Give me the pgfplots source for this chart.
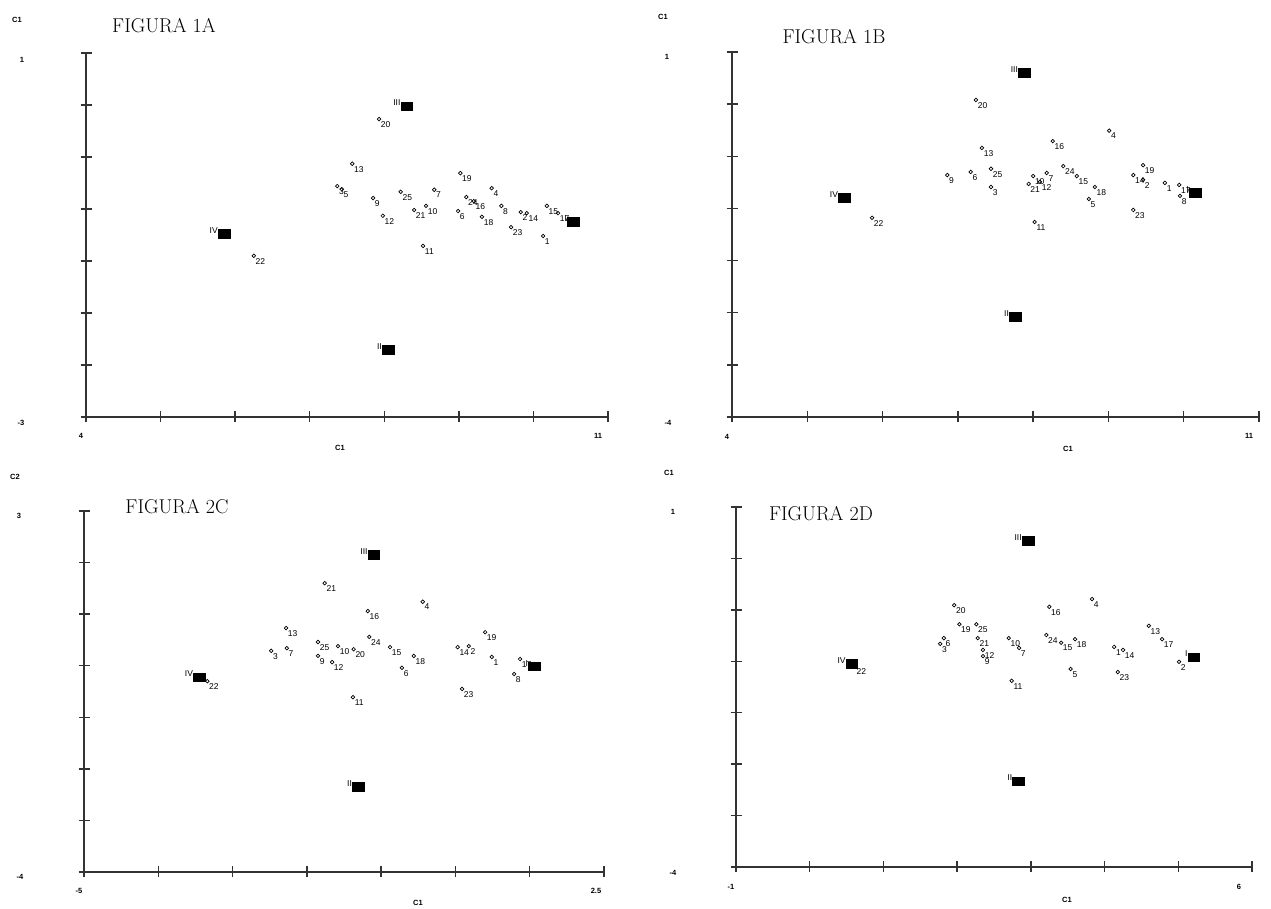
\documentclass[border=0pt]{standalone}
\usepackage{fontspec}
\setsansfont{Liberation Sans}
\usepackage{pgfplots}
\usepackage{pgfplotstable}
\pgfplotsset{compat=1.18}

\newcommand\ptfont{\sffamily\fontsize{8.5}{8.5}\selectfont}
\newcommand\axfont{\sffamily\bfseries\fontsize{7.5}{7.5}\selectfont}
\newcommand\ttlfont{\rmfamily\fontsize{20}{20}\selectfont}

% positions in tick units: each panel has 7 divisions on both axes
\pgfplotstableread{
x y lab
6.13 3.48 1
5.83 3.94 2
3.37 4.44 3
5.44 4.40 4
3.43 4.38 5
4.99 3.96 6
4.67 4.37 7
5.57 4.06 8
3.85 4.21 9
4.56 4.06 10
4.52 3.29 11
3.98 3.87 12
3.57 4.87 13
5.91 3.92 14
6.18 4.06 15
5.20 4.15 16
6.33 3.92 17
5.31 3.85 18
5.02 4.69 19
3.93 5.73 20
4.40 3.98 21
2.25 3.10 22
5.70 3.65 23
5.10 4.23 24
4.22 4.33 25
}\ptsA
\pgfplotstableread{
x y lab
6.53 3.75 I
4.05 1.29 II
4.30 5.98 III
1.85 3.52 IV
}\grpA

\pgfplotstableread{
x y lab
5.75 4.49 1
5.46 4.55 2
3.44 4.41 3
5.01 5.49 4
4.74 4.18 5
3.17 4.70 6
4.18 4.68 7
5.95 4.24 8
2.86 4.64 9
4.00 4.62 10
4.02 3.74 11
4.09 4.51 12
3.32 5.16 13
5.33 4.64 14
4.58 4.62 15
4.26 5.29 16
5.94 4.45 17
4.82 4.41 18
5.46 4.83 19
3.24 6.08 20
3.94 4.47 21
1.86 3.82 22
5.33 3.97 23
4.40 4.81 24
3.44 4.76 25
}\ptsB
\pgfplotstableread{
x y lab
6.15 4.30 I
3.76 1.92 II
3.88 6.60 III
1.49 4.20 IV
}\grpB

\pgfplotstableread{
x y lab
5.49 4.17 1
5.18 4.38 2
2.52 4.29 3
4.56 5.24 4
4.28 3.96 6
2.73 4.34 7
5.79 3.84 8
3.15 4.19 9
3.42 4.38 10
3.62 3.39 11
3.34 4.07 12
2.72 4.73 13
5.03 4.36 14
4.12 4.36 15
3.82 5.06 16
5.87 4.13 17
4.44 4.19 18
5.40 4.65 19
3.63 4.32 20
3.24 5.60 21
1.66 3.70 22
5.09 3.55 23
3.84 4.56 24
3.15 4.46 25
}\ptsC
\pgfplotstableread{
x y lab
6.06 3.99 I
3.69 1.65 II
3.90 6.15 III
1.55 3.78 IV
}\grpC

\pgfplotstableread{
x y lab
5.13 4.28 1
6.01 3.99 2
2.77 4.34 3
4.83 5.21 4
4.54 3.85 5
2.82 4.45 6
3.84 4.26 7
3.35 4.10 9
3.70 4.45 10
3.74 3.62 11
3.35 4.22 12
5.60 4.69 13
5.25 4.22 14
4.41 4.36 15
4.25 5.06 16
5.78 4.43 17
4.60 4.43 18
3.03 4.72 19
2.96 5.09 20
3.28 4.45 21
1.61 3.91 22
5.18 3.79 23
4.21 4.51 24
3.26 4.72 25
}\ptsD
\pgfplotstableread{
x y lab
6.21 4.08 I
3.83 1.67 II
3.96 6.34 III
1.57 3.95 IV
}\grpD

\pgfplotsset{
  panel/.style={
    scale only axis, anchor=south west,
    xmin=0, xmax=7, ymin=0, ymax=7,
    axis x line=bottom, axis y line=left,
    axis line style={-, line width=1.4pt, black!80},
    xtick={0,...,7}, ytick={0,...,7},
    xticklabels={}, yticklabels={},
    major tick length=11pt, tick align=center,
    every tick/.style={line width=1.4pt, black!80},
    clip=false,
  },
  pts/.style={
    only marks, mark=o, mark size=1.8pt,
    mark options={line width=0.7pt, black},
    nodes near coords, point meta=explicit symbolic,
    every node near coord/.append style={anchor=north west, font=\ptfont,
      inner sep=0pt, xshift=1.5pt, yshift=-2pt},
  },
  grp/.style={
    only marks, mark=square*, mark size=4.3pt,
    mark options={xscale=1.35, black},
    nodes near coords, point meta=explicit symbolic,
    every node near coord/.append style={anchor=south east, font=\ptfont,
      inner sep=0pt, xshift=-6pt, yshift=0pt},
  },
}

\begin{document}
\begin{tikzpicture}
\path[use as bounding box] (0pt,0pt) rectangle (1271pt,909pt);

% FIGURA 1A
\begin{axis}[panel, at={(86pt,492pt)}, width=522pt, height=364pt]
\addplot[pts] table[meta=lab] {\ptsA};
\addplot[grp] table[meta=lab] {\grpA};
\end{axis}
% FIGURA 1B
\begin{axis}[panel, at={(732pt,492pt)}, width=527pt, height=365pt]
\addplot[pts] table[meta=lab] {\ptsB};
\addplot[grp] table[meta=lab] {\grpB};
\end{axis}
% FIGURA 2C
\begin{axis}[panel, at={(84pt,37pt)}, width=520pt, height=361pt]
\addplot[pts] table[meta=lab] {\ptsC};
\addplot[grp] table[meta=lab] {\grpC};
\end{axis}
% FIGURA 2D
\begin{axis}[panel, at={(736pt,42pt)}, width=516pt, height=360pt]
\addplot[pts] table[meta=lab] {\ptsD};
\addplot[grp] table[meta=lab] {\grpD};
\end{axis}

% titles and axis texts
\begin{scope}[x=1pt, y=1pt]
\node[font=\ttlfont] at (164,883) {FIGURA 1A};
\node[font=\ttlfont] at (834,872) {FIGURA 1B};
\node[font=\ttlfont] at (177,402) {FIGURA 2C};
\node[font=\ttlfont] at (821,395) {FIGURA 2D};
\end{scope}

\begin{scope}[x=1pt, y=1pt, every node/.style={font=\axfont, inner sep=0pt}]
\node at (17,889) {C1};  \node at (22,849) {1};  \node at (21,486) {-3};
\node at (81,473) {4};   \node at (598,473) {11}; \node at (340,461) {C1};
\node at (663,892) {C1}; \node at (667,852) {1}; \node at (668,486) {-4};
\node at (727,472) {4};  \node at (1249,473) {11}; \node at (1068,460) {C1};
\node at (15,432) {C2};  \node at (19,393) {3};  \node at (20,32) {-4};
\node at (79,18) {-5};   \node at (596,18) {2.5}; \node at (418,6) {C1};
\node at (669,436) {C1}; \node at (673,397) {1}; \node at (673,36) {-4};
\node at (731,22) {-1};  \node at (1239,22) {6}; \node at (1067,9) {C1};
\end{scope}
\end{tikzpicture}
\end{document}
